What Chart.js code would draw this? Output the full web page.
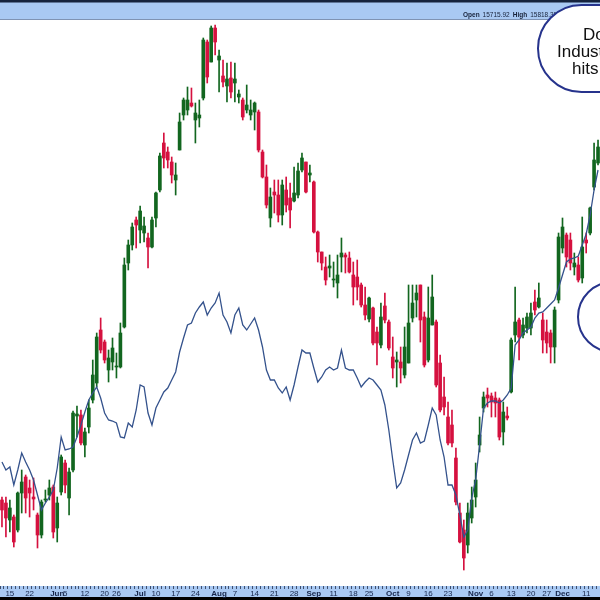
<!DOCTYPE html>
<html>
<head>
<meta charset="utf-8">
<script src="https://cdn.jsdelivr.net/npm/chart.js@4.4.1/dist/chart.umd.min.js"></script>
<style>
html, body { margin: 0; padding: 0; background: #fff; }
</style>
</head>
<body>
<canvas id="chart" width="600" height="600"></canvas>
<script>
// daily candles (chart units, higher = up)
const opens = [
  100, 97, 80, 83, 70, 107, 123, 112, 103, 85,
  65, 100, 105, 113, 72, 108, 137, 102, 130, 184,
  185, 155, 173, 200, 217, 270, 258, 230, 238, 233,
  233, 273, 337, 355, 380, 370, 367, 362, 353, 382,
  410, 457, 448, 438, 420, 450, 485, 490, 497, 480,
  482, 502, 558, 538, 572, 540, 524, 514, 522, 517,
  503, 500, 490, 485, 488, 488, 448, 423, 382, 408,
  405, 385, 410, 402, 399, 405, 430, 438, 425, 418,
  368, 348, 333, 332, 320, 317, 343, 345, 342, 325,
  323, 315, 295, 281, 292, 268, 255, 294, 278, 243,
  238, 238, 225, 237, 282, 300, 315, 283, 240, 275,
  278, 237, 203, 183, 175, 142, 87, 70, 55, 82,
  103, 155, 192, 205, 204, 202, 200, 168, 184, 208,
  265, 280, 265, 272, 272, 298, 293, 280, 268, 267,
  253, 300, 352, 365, 360, 333, 335, 322, 360, 367,
  413, 437
];
const highs = [
  103, 103, 100, 85, 108, 130, 125, 120, 122, 87,
  100, 110, 120, 115, 103, 145, 140, 132, 189, 194,
  190, 172, 200, 240, 267, 282, 260, 250, 262, 247,
  277, 342, 360, 377, 383, 394, 383, 367, 383, 408,
  447, 467, 453, 443, 437, 487, 502, 513, 512, 497,
  500, 562, 560, 574, 575, 550, 540, 537, 538, 537,
  510, 502, 515, 500, 498, 490, 450, 435, 412, 420,
  420, 420, 423, 417, 433, 437, 447, 438, 435, 419,
  369, 348, 343, 345, 338, 345, 362, 347, 348, 338,
  340, 317, 313, 303, 293, 273, 297, 307, 280, 263,
  248, 253, 273, 315, 315, 315, 315, 288, 313, 325,
  280, 245, 223, 198, 190, 152, 97, 80, 97, 113,
  137, 183, 208, 212, 207, 208, 202, 198, 193, 262,
  313, 282, 282, 287, 297, 310, 317, 287, 280, 270,
  293, 367, 382, 367, 367, 347, 343, 383, 367, 393,
  457, 460
];
const lows = [
  73, 63, 68, 53, 68, 87, 87, 83, 90, 52,
  62, 98, 100, 62, 58, 105, 107, 85, 128, 163,
  155, 143, 167, 197, 213, 247, 237, 218, 230, 222,
  232, 272, 330, 350, 352, 357, 358, 332, 352, 373,
  408, 432, 432, 417, 405, 450, 480, 485, 493, 457,
  473, 500, 517, 538, 545, 508, 513, 498, 502, 498,
  497, 480, 487, 480, 470, 448, 422, 392, 373, 387,
  378, 375, 388, 372, 398, 402, 428, 407, 418, 367,
  338, 330, 315, 323, 313, 302, 328, 327, 327, 295,
  300, 293, 280, 278, 255, 235, 252, 277, 250, 222,
  213, 217, 222, 237, 278, 283, 258, 233, 238, 275,
  213, 188, 185, 155, 153, 95, 57, 30, 47, 77,
  93, 148, 188, 193, 183, 183, 160, 155, 180, 207,
  258, 240, 262, 267, 265, 285, 292, 247, 247, 237,
  237, 297, 347, 333, 330, 325, 318, 317, 347, 365,
  410, 435
];
const closes = [
  90, 82, 92, 58, 107, 118, 102, 107, 101, 65,
  98, 101, 112, 68, 97, 143, 115, 128, 187, 186,
  157, 168, 192, 225, 263, 250, 240, 242, 252, 234,
  267, 335, 355, 373, 375, 389, 374, 353, 380, 407,
  444, 442, 440, 425, 425, 478, 500, 500, 494, 487,
  485, 560, 523, 572, 558, 544, 518, 521, 508, 521,
  506, 483, 495, 490, 497, 450, 423, 395, 403, 405,
  385, 415, 395, 390, 407, 429, 442, 408, 427, 368,
  348, 337, 320, 334, 321, 325, 347, 343, 328, 313,
  313, 295, 285, 302, 257, 257, 283, 280, 252, 232,
  240, 232, 253, 277, 297, 307, 280, 235, 282, 303,
  215, 190, 193, 157, 157, 98, 58, 42, 87, 100,
  120, 165, 203, 202, 198, 197, 163, 188, 182, 260,
  278, 263, 275, 283, 287, 290, 302, 260, 257, 253,
  290, 363, 373, 343, 337, 337, 320, 353, 357, 392,
  440, 453
];
// overlay line (same units)
const lineValues = [
  138, 130, 133, 115, 130, 147, 138, 130, 120, 105,
  90, 97, 103, 110, 132, 163, 150, 151, 153, 163,
  175, 188, 200, 207, 213, 202, 187, 180, 179, 177,
  163, 162, 177, 173, 190, 215, 213, 187, 175, 192,
  200, 208, 212, 220, 228, 248, 262, 275, 277, 287,
  293, 298, 285, 292, 297, 307, 285, 278, 267, 285,
  292, 275, 270, 276, 282, 270, 253, 230, 220, 220,
  212, 207, 213, 200, 215, 233, 250, 247, 247, 232,
  218, 223, 230, 233, 230, 232, 250, 232, 230, 230,
  222, 213, 218, 222, 220, 215, 210, 195, 170, 140,
  112, 117, 130, 145, 160, 167, 157, 159, 175, 192,
  185, 160, 143, 115, 115, 105, 85, 63, 70, 102,
  120, 155, 192, 197, 199, 199, 197, 200, 205, 212,
  255, 260, 267, 270, 273, 282, 287, 288, 292, 296,
  300, 312, 325, 338, 341, 342, 344, 355, 366, 385,
  410, 430
];
// bottom axis labels: candle index and text
const tickIndex = [2, 7, 14, 16, 21, 26, 29, 35, 39, 44, 49, 55, 59, 64, 69, 74,
  79, 84, 89, 93, 99, 103, 108, 113, 120, 124, 129, 134, 138, 142, 148];
const tickText = ['15', '22', 'Jun', '5', '12', '20', '26', 'Jul', '10', '17', '24', 'Aug', '7', '14', '21', '28',
  'Sep', '11', '18', '25', 'Oct', '9', '16', '23', 'Nov', '6', '13', '20', '27', 'Dec', '11'];
const monthNames = ['Jun', 'Jul', 'Aug', 'Sep', 'Oct', 'Nov', 'Dec'];
// header readout
const headerParts = [['Open', true], ['15715.92', false], ['High', true], ['15818.35', false]];

const UP = '#12661f';
const DOWN = '#d5113f';

const days = opens.map((_, i) => 'd' + i);
const candleColors = opens.map((o, i) => (closes[i] >= o ? UP : DOWN));

const frame = {
    id: 'frame',
    beforeDraw(chart) {
        const c = chart.ctx;
        const a = chart.chartArea;
        c.save();
        c.fillStyle = '#fff';
        c.fillRect(0, 0, chart.width, chart.height);
        // header bar
        c.fillStyle = '#a9c9f3';
        c.fillRect(0, 2, chart.width, 17);
        c.fillStyle = '#16233d';
        c.fillRect(0, 0, chart.width, 2.5);
        c.fillStyle = '#7f93b3';
        c.fillRect(0, 19, chart.width, 1);
        c.fillStyle = '#17223a';
        c.textBaseline = 'alphabetic';
        let x = 463;
        headerParts.forEach(([txt, bold]) => {
            c.font = (bold ? 'bold ' : '') + '6.5px "Liberation Sans", Arial';
            c.fillText(txt, x, 17);
            x += c.measureText(txt).width + 3;
        });
        // axis strip
        c.fillStyle = '#a9c9f3';
        c.fillRect(0, a.bottom, chart.width, 11);
        c.fillStyle = '#000';
        c.fillRect(0, a.bottom + 11, chart.width, 3);
        c.restore();
    },
    afterDraw(chart) {
        const c = chart.ctx;
        c.save();
        const bubble = (x, y, w, h) => {
            c.beginPath();
            c.roundRect(x, y, w, h, h / 2);
            c.fillStyle = '#fff';
            c.fill();
            c.lineWidth = 2;
            c.strokeStyle = '#26338c';
            c.stroke();
        };
        bubble(538, 5, 200, 87);
        bubble(578, 282, 120, 70);
        c.fillStyle = '#111';
        c.font = '17px "Liberation Sans", Arial';
        c.textAlign = 'left';
        c.fillText('Dow', 583, 40);
        c.fillText('Industrials', 557, 57);
        c.fillText('hits', 572, 74);
        c.restore();
    },
};

new Chart(document.getElementById('chart'), {
    data: {
        labels: days,
        datasets: [
            {
                type: 'line',
                data: lineValues,
                borderColor: '#34528c',
                borderWidth: 1.3,
                pointRadius: 0,
                tension: 0,
                order: 0,
            },
            {
                type: 'bar',
                data: opens.map((o, i) => [o, closes[i]]),
                backgroundColor: candleColors,
                barThickness: 3,
                minBarLength: 1,
                grouped: false,
                order: 1,
            },
            {
                type: 'bar',
                data: lows.map((l, i) => [l, highs[i]]),
                backgroundColor: candleColors,
                barThickness: 1,
                grouped: false,
                order: 2,
            },
        ],
    },
    options: {
        responsive: false,
        animation: false,
        devicePixelRatio: 1,
        layout: { padding: { top: 20, left: 0, right: 0, bottom: 0 } },
        plugins: { legend: { display: false }, tooltip: { enabled: false } },
        scales: {
            x: {
                type: 'category',
                offset: true,
                border: { display: false },
                grid: { offset: true, drawOnChartArea: false, tickLength: 3, color: '#3f4f6e' },
                ticks: {
                    autoSkip: false,
                    maxRotation: 0,
                    minRotation: 0,
                    padding: 0,
                    color: '#16254a',
                    font: (ctx) => ({
                        size: 8,
                        family: '"Liberation Sans", Arial',
                        weight: ctx.tick && monthNames.includes(ctx.tick.label) ? 'bold' : 'normal',
                    }),
                    callback: (value, index) => {
                        const k = tickIndex.indexOf(index);
                        return k >= 0 ? tickText[k] : '';
                    },
                },
                afterFit: (scale) => {
                    scale.height = 14;
                },
            },
            y: { display: false, min: 14, max: 580 },
        },
    },
    plugins: [frame],
});
</script>
</body>
</html>
